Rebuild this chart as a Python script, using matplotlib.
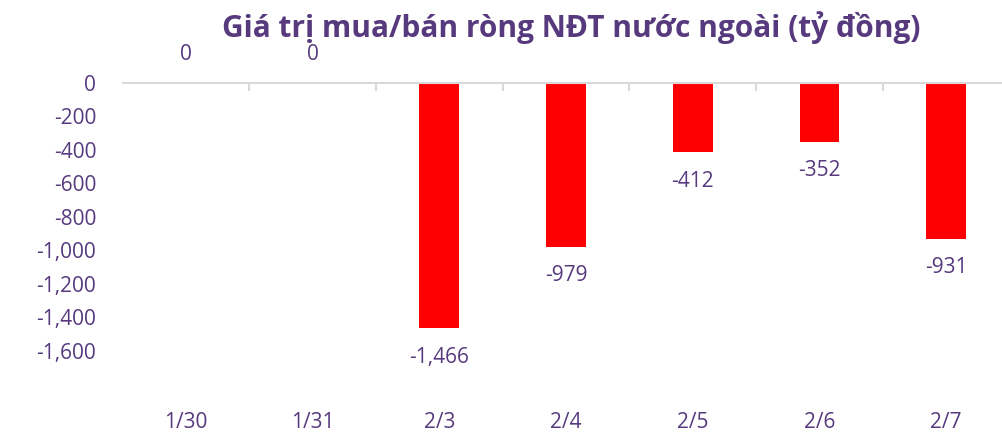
import numpy as np
import matplotlib.pyplot as plt
from matplotlib.ticker import FuncFormatter

# data
days = ["1/30", "1/31", "2/3", "2/4", "2/5", "2/6", "2/7"]
net_value = [0, 0, -1466, -979, -412, -352, -931]
y_ticks = [0, -200, -400, -600, -800, -1000, -1200, -1400, -1600]

PURPLE = "#573A7E"
plt.rcParams['font.family'] = ['Open Sans', 'DejaVu Sans']

fig = plt.figure(figsize=(10.02, 4.33), dpi=100)
ax = fig.add_axes([0.1225, 0.113, 0.885, 0.6955])

x = np.arange(len(days))
bars = ax.bar(x, net_value, width=0.315, color="#FF0000")

ax.set_xlim(-0.5, len(days) - 0.5)
ax.set_ylim(-1800, 0)

# value labels
for xi, v in zip(x, net_value):
    if v >= 0:
        ax.annotate(f"{v:,}", (xi, v), xytext=(0, 20.5), textcoords="offset points",
                    ha="center", va="center", fontsize=15, color=PURPLE,
                    annotation_clip=False)
    else:
        ax.annotate(f"{v:,}", (xi, v), xytext=(0, -21), textcoords="offset points",
                    ha="center", va="center", fontsize=15, color=PURPLE)

# axes styling
for s in ["left", "right", "bottom"]:
    ax.spines[s].set_visible(False)
ax.spines["top"].set_color("#d9d9d9")
ax.spines["top"].set_linewidth(1.5)

ax.set_xticks(x)
ax.set_xticklabels(days)
ax.set_xticks(x[:-1] + 0.5, minor=True)
ax.tick_params(axis="x", which="major", length=0, pad=20, labelsize=15, labelcolor=PURPLE)
ax.tick_params(axis="x", which="minor", top=True, bottom=False, direction="in",
               length=6, width=1.5, color="#d9d9d9")

ax.set_yticks(y_ticks)
ax.yaxis.set_major_formatter(FuncFormatter(lambda v, p: f"{int(v):,}"))
ax.tick_params(axis="y", length=0, pad=19, labelsize=15, labelcolor=PURPLE)

fig.text(0.57, 1 - 37 / 433, "Giá trị mua/bán ròng NĐT nước ngoài (tỷ đồng)",
         ha="center", va="baseline", fontsize=21.5, fontweight="bold", color=PURPLE)

fig.savefig("out.png", dpi=100)
